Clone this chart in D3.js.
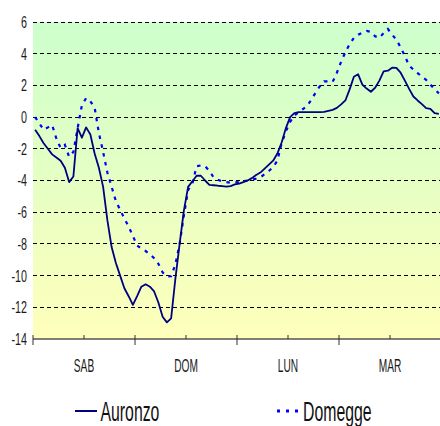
<!DOCTYPE html>
<html><head><meta charset="utf-8">
<script src="https://cdn.jsdelivr.net/npm/d3@7/dist/d3.min.js"></script>
<style>html,body{margin:0;padding:0;background:#fff;overflow:hidden}</style>
</head><body>
<svg id="c" width="440" height="426"></svg>
<script>
// ---- data ----
const dayLabels = ["SAB","DOM","LUN","MAR"];
const yTicks = [6,4,2,0,-2,-4,-6,-8,-10,-12,-14];
const seriesNames = ["Auronzo","Domegge"];
const auronzo = [-0.8,-1.2,-1.65,-2.0,-2.35,-2.55,-2.75,-3.2,-4.1,-3.75,
 -0.7,-1.3,-0.65,-1.1,-2.3,-3.2,-4.4,-6.5,-8.2,-9.2,
 -10.0,-10.8,-11.3,-11.85,-11.3,-10.7,-10.55,-10.7,-11.0,-11.7,
 -12.6,-12.95,-12.7,-10.2,-8.0,-5.9,-4.4,-4.05,-3.7,-3.7,
 -4.0,-4.27,-4.3,-4.33,-4.35,-4.38,-4.35,-4.25,-4.2,-4.1,
 -4.0,-3.85,-3.65,-3.5,-3.25,-3.0,-2.75,-2.3,-1.6,-0.7,
 0.0,0.25,0.31,0.31,0.31,0.31,0.31,0.31,0.33,0.4,
 0.46,0.58,0.8,1.05,1.75,2.55,2.7,2.05,1.8,1.6,
 1.85,2.3,2.88,2.93,3.12,3.1,2.8,2.3,1.78,1.3,
 1.05,0.82,0.57,0.52,0.25,0.2];
const domegge = [0.0,-0.4,-0.8,-0.65,-0.5,-1.35,-1.95,-1.75,-2.5,-2.2,
 -0.7,0.75,1.2,1.0,0.6,-1.0,-2.2,-3.5,-4.4,-5.3,
 -5.85,-6.4,-6.9,-7.5,-8.1,-8.3,-8.45,-8.65,-8.9,-9.25,
 -9.8,-10.05,-10.04,-9.3,-8.0,-6.2,-4.6,-4.2,-3.1,-3.05,
 -3.1,-3.4,-3.8,-3.95,-4.07,-4.1,-4.14,-4.12,-4.1,-4.05,
 -4.0,-3.95,-3.88,-3.8,-3.6,-3.4,-3.15,-2.75,-1.65,-0.9,
 -0.3,0.1,0.3,0.5,0.7,1.1,1.55,1.95,2.25,2.25,
 2.22,2.8,3.5,4.1,4.6,5.0,5.2,5.33,5.44,5.38,
 5.1,5.0,5.3,5.56,5.2,4.88,4.4,3.85,3.25,3.0,
 2.78,2.55,2.35,2.05,1.75,1.5];

// ---- layout ----
const L = 33, R = 441, T = 22, B = 339;
const svg = d3.select("#c");
const hours = d3.range(auronzo.length);
const xb = d3.scaleBand().domain(hours).range([L, R]).paddingInner(0).paddingOuter(0);
const xh = d3.scaleLinear().domain([0, 96]).range([L, R]);
const y = d3.scaleLinear().domain([-14, 6]).range([B, T]);
const px = i => xb(i) + xb.bandwidth() / 2;

const defs = svg.append("defs");
const g = defs.append("linearGradient").attr("id","bg").attr("x1",0).attr("y1",0).attr("x2",0).attr("y2",1);
g.append("stop").attr("offset","0%").attr("stop-color","#ccffcc");
g.append("stop").attr("offset","100%").attr("stop-color","#ffffbb");

svg.append("rect").attr("x", L).attr("y", T).attr("width", R - L).attr("height", B - T).attr("fill","url(#bg)");

// gridlines
svg.append("g").selectAll("line").data(yTicks.filter(v => v > -14)).join("line")
  .attr("x1", L).attr("x2", R).attr("y1", d => y(d)).attr("y2", d => y(d))
  .attr("stroke","#000").attr("stroke-width",1).attr("stroke-dasharray","4,3")
  .attr("shape-rendering","crispEdges");

// y labels
svg.append("g").selectAll("text").data(yTicks).join("text")
  .attr("transform", d => `translate(27,${y(d)}) scale(0.65,1)`)
  .attr("text-anchor","end").attr("dy","0.36em")
  .attr("font-family","Liberation Sans, Arial, sans-serif").attr("font-size",16.5)
  .attr("fill","#1a1a1a").text(d => String(d));

// x axis
svg.append("line").attr("x1", L).attr("x2", R).attr("y1", B).attr("y2", B)
  .attr("stroke","#555").attr("stroke-width",1.5);
const majors = [0,24,48,72,96], minors = [12,36,60,84];
svg.append("g").selectAll("line").data(majors).join("line")
  .attr("x1", d => xh(d)).attr("x2", d => xh(d)).attr("y1", B - 4).attr("y2", B + 6)
  .attr("stroke","#333").attr("stroke-width",1);
svg.append("g").selectAll("line").data(minors).join("line")
  .attr("x1", d => xh(d)).attr("x2", d => xh(d)).attr("y1", B - 4).attr("y2", B)
  .attr("stroke","#333").attr("stroke-width",1);
svg.append("g").selectAll("text").data(dayLabels).join("text")
  .attr("transform", (d,i) => `translate(${xh(minors[i])},372) scale(0.58,1)`)
  .attr("text-anchor","middle")
  .attr("font-family","Liberation Sans, Arial, sans-serif").attr("font-size",17.5)
  .attr("fill","#1a1a1a").text(d => d);

// lines
const line = d3.line().x((d,i) => px(i)).y(d => y(d));
svg.append("path").datum(domegge).attr("d", line).attr("fill","none")
  .attr("stroke","#0000ff").attr("stroke-width",2.2).attr("stroke-dasharray","3.5,5.5");
svg.append("path").datum(auronzo).attr("d", line).attr("fill","none")
  .attr("stroke","#000080").attr("stroke-width",1.8).attr("stroke-linejoin","round");

// legend
svg.append("line").attr("x1",75).attr("x2",97).attr("y1",411).attr("y2",411)
  .attr("stroke","#000080").attr("stroke-width",2);
svg.append("line").attr("x1",277).attr("x2",301).attr("y1",411).attr("y2",411)
  .attr("stroke","#0000ff").attr("stroke-width",3).attr("stroke-dasharray","3,6");
svg.append("g").selectAll("text").data(seriesNames).join("text")
  .attr("transform", (d,i) => `translate(${i === 0 ? 100.5 : 303},421) scale(0.565,1)`)
  .attr("font-family","Liberation Sans, Arial, sans-serif").attr("font-size",28)
  .attr("fill","#111").text(d => d);
</script>
</body></html>
